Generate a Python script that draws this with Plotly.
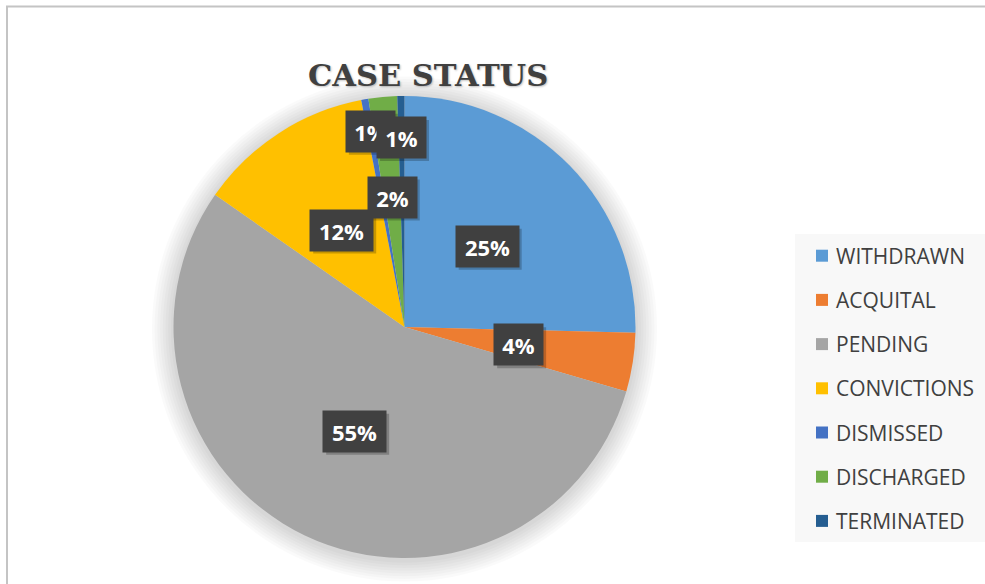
import math
import plotly.graph_objects as go

# ---------------- data ----------------
categories = ["WITHDRAWN", "ACQUITAL", "PENDING", "CONVICTIONS",
              "DISMISSED", "DISCHARGED", "TERMINATED"]
values = [25.4, 4.1, 55.2, 12.3, 0.5, 2.0, 0.5]
title_text = "CASE STATUS"

# ---------------- style ----------------
colors = ["#5B9BD5", "#ED7D31", "#A5A5A5", "#FFC000",
          "#4472C4", "#70AD47", "#255E91"]
label_radius = [0.5, 0.5, 0.5, 0.5, 0.86, 0.565, 0.82]  # fraction of pie radius

W, H = 985, 584
CX, CY, R = 404.5, 327.0, 231.0


def px(x):
    return x / W


def py(y):
    return 1 - y / H


def clamp(v):
    return min(1.0, max(0.0, v))


fig = go.Figure()

# soft shadow around the pie (stack of faint discs)
for k in range(8, 0, -1):
    rr = R + 2.7 * k
    cy = CY + 2
    fig.add_trace(go.Pie(
        values=[1], labels=["shadow"], sort=False,
        marker=dict(colors=["rgba(0,0,0,0.018)"], line=dict(width=0)),
        textinfo="none", hoverinfo="skip", showlegend=False,
        domain=dict(x=[clamp(px(CX - rr)), clamp(px(CX + rr))],
                    y=[clamp(py(cy + rr)), clamp(py(cy - rr))]),
    ))

fig.add_trace(go.Pie(
    labels=categories, values=values, sort=False, direction="clockwise",
    rotation=0,
    marker=dict(colors=colors, line=dict(width=0)),
    textinfo="none", showlegend=False,
    domain=dict(x=[px(CX - R), px(CX + R)], y=[py(CY + R), py(CY - R)]),
))

annotations = []
shapes = []

# data labels with dark boxes
total = sum(values)
cum = 0.0
for cat, v, rf in zip(categories, values, label_radius):
    mid = (cum + v / 2) / total * 2 * math.pi
    cum += v
    lx = CX + rf * R * math.sin(mid)
    ly = CY - rf * R * math.cos(mid)
    pct = v / total * 100
    num = str(math.floor(pct + 0.5 + 1e-9))
    bw = 35 + 14 * len(num)
    bh = 41
    # drop shadow
    shapes.append(dict(type="rect", xref="paper", yref="paper",
                       x0=px(lx - bw / 2 + 3), x1=px(lx + bw / 2 + 3),
                       y0=py(ly + bh / 2 + 3), y1=py(ly - bh / 2 + 3),
                       fillcolor="rgba(0,0,0,0.22)", line=dict(width=0), layer="above"))
    annotations.append(dict(
        x=px(lx), y=py(ly), xref="paper", yref="paper",
        text=f"<b>{num}%</b>", showarrow=False, xanchor="center", yanchor="middle",
        width=bw, height=bh, borderpad=0, bgcolor="#404040", align="center",
        valign="middle",
        font=dict(family="Open Sans", size=22, color="white"),
    ))

# title
annotations.append(dict(
    x=px(427.5), y=py(75), xref="paper", yref="paper",
    text=f"<b>{title_text}</b>", showarrow=False,
    xanchor="center", yanchor="middle",
    font=dict(family="DejaVu Serif", size=30.5, color="#404040",
              shadow="1px 1px 2px rgba(0,0,0,0.25)"),
))

# legend (built from categories / colors)
shapes.append(dict(type="rect", xref="paper", yref="paper",
                   x0=px(795), x1=px(990), y0=py(542), y1=py(234),
                   fillcolor="#F8F8F8", line=dict(width=0), layer="below"))
for i, (cat, col) in enumerate(zip(categories, colors)):
    yc = 255.7 + i * 44.2
    shapes.append(dict(type="rect", xref="paper", yref="paper",
                       x0=px(816), x1=px(828), y0=py(yc + 6), y1=py(yc - 6),
                       fillcolor=col, line=dict(width=0)))
    annotations.append(dict(
        x=px(834), y=py(yc), xref="paper", yref="paper",
        text=cat, showarrow=False, xanchor="left", yanchor="middle",
        font=dict(family="Open Sans", size=21, color="#404040"),
    ))

# chart frame
shapes.append(dict(type="rect", xref="paper", yref="paper",
                   x0=px(7), x1=px(W + 10), y0=py(H + 10), y1=py(6.5),
                   line=dict(color="#C4C4C4", width=2), fillcolor="rgba(0,0,0,0)"))

fig.update_layout(
    width=W, height=H,
    margin=dict(l=0, r=0, t=0, b=0),
    paper_bgcolor="white", plot_bgcolor="white",
    annotations=annotations, shapes=shapes,
    showlegend=False,
)

fig.write_html(
    "out.html",
    config={"displayModeBar": False},
    post_script="document.body.style.margin='0';document.body.style.overflow='hidden';",
)
